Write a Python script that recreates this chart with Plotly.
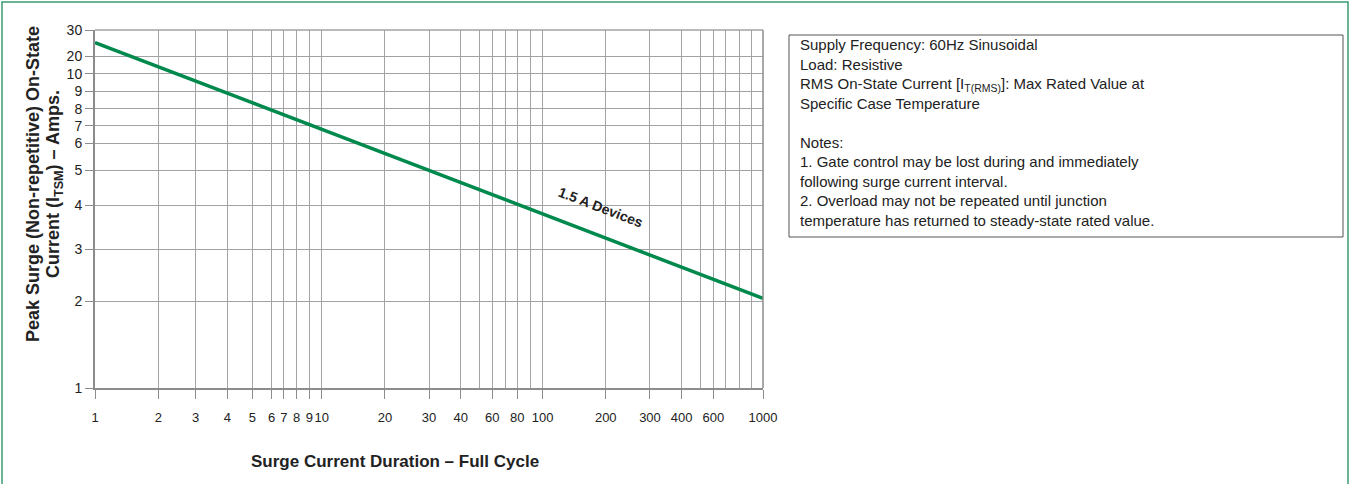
import numpy as np
import plotly.graph_objects as go

# ---- data -------------------------------------------------------------
duration_cycles = [1, 1000]          # surge duration, full cycles
peak_current_a = [25.2, 2.06]        # peak surge current, amps
series_label = "1.5 A Devices"

x_tick_values = [1, 2, 3, 4, 5, 6, 7, 8, 9, 10, 20, 30, 40, 60, 80, 100,
                 200, 300, 400, 600, 1000]
x_minor_values = [50, 70, 90, 500, 700, 800, 900]
y_tick_values = [1, 2, 3, 4, 5, 6, 7, 8, 9, 10, 20, 30]

# ---- printed grid scale (graph-paper spacing, fraction of plot span) ---
X_SCALE_VALUES = [1, 2, 3, 4, 5, 6, 7, 8, 9, 10, 20, 30, 40, 50, 60, 70, 80,
                  90, 100, 200, 300, 400, 500, 600, 700, 800, 900, 1000]
X_SCALE_POS = [0.0, 0.0948, 0.1507, 0.1980, 0.2355, 0.2645, 0.2829, 0.3019,
               0.3208, 0.3394, 0.4341, 0.5000, 0.5475, 0.5749, 0.5948,
               0.6138, 0.6322, 0.6512, 0.6702, 0.7646, 0.8308, 0.8783,
               0.9067, 0.9256, 0.9446, 0.9645, 0.9835, 1.0]
Y_SCALE_VALUES = [1, 2, 3, 4, 5, 6, 7, 8, 9, 10, 20, 30]
Y_SCALE_POS = [0.0, 0.2417, 0.3879, 0.5107, 0.6084, 0.6827, 0.7329, 0.7804,
               0.8289, 0.8780, 0.9266, 1.0]


def x_scale(v):
    return np.interp(v, X_SCALE_VALUES, X_SCALE_POS)


def y_scale(v):
    return np.interp(v, Y_SCALE_VALUES, Y_SCALE_POS)


# ---- page geometry ----------------------------------------------------
W, H = 1352, 484
ML, MR, MT, MB = 95, 589, 30, 96
PW, PH = W - ML - MR, H - MT - MB


def px(xp):
    return (xp - ML) / PW


def py(yp):
    return (H - MB - yp) / PH


GRID = "#a3a3a3"
AXIS = "#8c8c8c"
GREEN = "#00894d"
FONT = "Liberation Sans, Arial, sans-serif"

fig = go.Figure()

xs = x_scale(duration_cycles)
ys = y_scale(peak_current_a)
fig.add_trace(go.Scatter(x=xs, y=ys, mode="lines",
                         line=dict(color=GREEN, width=3.5),
                         hoverinfo="skip", showlegend=False))

fig.update_layout(
    width=W, height=H,
    margin=dict(l=ML, r=MR, t=MT, b=MB),
    paper_bgcolor="white", plot_bgcolor="white",
    showlegend=False,
    font=dict(family=FONT, color="#222222"),
    xaxis=dict(
        range=[0, 1], tickmode="array",
        tickvals=list(x_scale(x_tick_values)),
        ticktext=[str(v) for v in x_tick_values],
        tickangle=0,
        ticks="outside", ticklen=9, tickcolor=AXIS, tickwidth=1,
        showgrid=True, gridcolor=GRID, gridwidth=1,
        showline=True, linecolor=AXIS, linewidth=2,
        zeroline=False, tickfont=dict(size=13, color="#222"),
        ticklabelstandoff=7,
        minor=dict(tickmode="array", tickvals=list(x_scale(x_minor_values)),
                   showgrid=True, gridcolor=GRID, gridwidth=1, ticks=""),
    ),
    yaxis=dict(
        range=[0, 1], tickmode="array",
        tickvals=list(y_scale(y_tick_values)),
        ticktext=[str(v) for v in y_tick_values],
        ticks="outside", ticklen=8, tickcolor=AXIS, tickwidth=1,
        showgrid=True, gridcolor=GRID, gridwidth=1,
        showline=True, linecolor=AXIS, linewidth=2,
        zeroline=False, tickfont=dict(size=14, color="#222"),
    ),
)

# top and right edges of the grid
fig.add_shape(type="line", xref="paper", yref="paper", x0=0, x1=1, y0=1, y1=1,
              line=dict(color=GRID, width=1.5))
fig.add_shape(type="line", xref="paper", yref="paper", x0=1, x1=1, y0=0, y1=1,
              line=dict(color=AXIS, width=1.5))

# outer green frame
fig.add_shape(type="rect", xref="paper", yref="paper",
              x0=px(2), x1=px(1348), y0=py(2), y1=py(490),
              line=dict(color="#3a9c70", width=1.5), layer="below")

# notes box
fig.add_shape(type="rect", xref="paper", yref="paper",
              x0=px(789), x1=px(1343), y0=py(35), y1=py(237),
              line=dict(color="#555555", width=1))
notes = ("Supply Frequency: 60Hz Sinusoidal<br>"
         "Load: Resistive<br>"
         "RMS On-State Current [I<sub>T(RMS)</sub>]: Max Rated Value at<br>"
         "Specific Case Temperature<br>"
         "<br>"
         "Notes:<br>"
         "1. Gate control may be lost during and immediately<br>"
         "following surge current interval.<br>"
         "2. Overload may not be repeated until junction<br>"
         "temperature has returned to steady-state rated value.")
fig.add_annotation(xref="paper", yref="paper", x=px(798), y=py(34),
                   xanchor="left", yanchor="top", align="left",
                   showarrow=False, text=notes,
                   font=dict(size=15, family=FONT, color="#222"))

# axis titles
fig.add_annotation(xref="paper", yref="paper", x=px(33), y=py(184),
                   xanchor="center", yanchor="middle", textangle=-90,
                   showarrow=False,
                   text="<b>Peak Surge (Non-repetitive) On-State</b>",
                   font=dict(size=18, family=FONT, color="#222"))
fig.add_annotation(xref="paper", yref="paper", x=px(54), y=py(184),
                   xanchor="center", yanchor="middle", textangle=-90,
                   showarrow=False,
                   text="<b>Current (I<sub>TSM</sub>) – Amps.</b>",
                   font=dict(size=18, family=FONT, color="#222"))
fig.add_annotation(xref="paper", yref="paper", x=px(395), y=py(461),
                   xanchor="center", yanchor="middle", showarrow=False,
                   text="<b>Surge Current Duration – Full Cycle</b>",
                   font=dict(size=17, family=FONT, color="#222"))

# series label along the line
fig.add_annotation(xref="paper", yref="paper", x=px(600), y=py(207),
                   xanchor="center", yanchor="middle", textangle=21,
                   showarrow=False, text="<b>" + series_label + "</b>",
                   font=dict(size=14, family=FONT, color="#222"))

fig.write_html("out.html")
